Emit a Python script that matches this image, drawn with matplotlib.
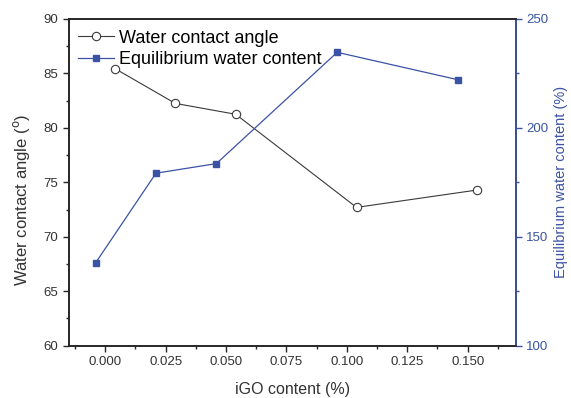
import matplotlib.pyplot as plt
from matplotlib.ticker import MultipleLocator

plt.rcParams['font.family'] = ['Liberation Sans', 'DejaVu Sans']

# contact angle series (left axis)
igo_wca = [0.004, 0.029, 0.054, 0.104, 0.154]
wca = [85.45, 82.25, 81.25, 72.7, 74.3]

# equilibrium water content series (right axis)
igo_ewc = [-0.004, 0.021, 0.046, 0.096, 0.146]
ewc = [138.0, 179.2, 183.6, 234.7, 222.1]

blue = '#3a53a4'
dark = '#262626'

fig = plt.figure(figsize=(5.71, 3.98), dpi=100)
ax = fig.add_axes([0.1208, 0.1314, 0.7829, 0.8209])
ax2 = ax.twinx()

l1, = ax.plot(igo_wca, wca, '-o', color='#3a3a3a', lw=0.8, ms=6,
              mfc='white', mec='#3a3a3a', mew=0.8, label='Water contact angle')
l2, = ax2.plot(igo_ewc, ewc, '-s', color=blue, lw=0.9, ms=5,
               mfc=blue, mec=blue, label='Equilibrium water content')

ax.set_xlim(-0.015, 0.17)
ax.set_ylim(60, 90)
ax2.set_ylim(100, 250)

ax.xaxis.set_major_locator(MultipleLocator(0.025))
ax.xaxis.set_minor_locator(MultipleLocator(0.0125))
ax.yaxis.set_major_locator(MultipleLocator(5))
ax.yaxis.set_minor_locator(MultipleLocator(2.5))
ax2.yaxis.set_major_locator(MultipleLocator(50))
ax2.yaxis.set_minor_locator(MultipleLocator(25))
ax.xaxis.set_major_formatter(plt.FuncFormatter(lambda v, p: '%.3f' % v))

for a in (ax, ax2):
    a.tick_params(which='major', direction='out', length=4, width=1, labelsize=9.5)
    a.tick_params(which='minor', direction='out', length=2.5, width=1)
ax.tick_params(axis='both', which='both', colors=dark, labelcolor='#333333')
ax2.tick_params(axis='y', which='both', colors=blue, labelcolor=blue)

for s in ax.spines.values():
    s.set_linewidth(1.2)
    s.set_color(dark)
for s in ax2.spines.values():
    s.set_linewidth(1.2)
    s.set_color(dark)
ax2.spines['right'].set_color(blue)

ax.set_xlabel('iGO content (%)', fontsize=11.5, color='#333333', labelpad=10)
ax.set_ylabel(r'Water contact angle ($^{\rm o}$)', fontsize=12, color='#333333')
ax.yaxis.set_label_coords(-0.082, 0.445)
ax2.set_ylabel('Equilibrium water content (%)', fontsize=10.5, color=blue)
ax2.yaxis.set_label_coords(1.085, 0.5)

ax.legend([l1, l2], ['Water contact angle', 'Equilibrium water content'],
          loc='upper left', frameon=False, fontsize=13, handlelength=2.0,
          handletextpad=0.25, borderaxespad=0.1, labelspacing=0.25,
          bbox_to_anchor=(0.0, 0.995))

fig.savefig('out.png', dpi=100)
